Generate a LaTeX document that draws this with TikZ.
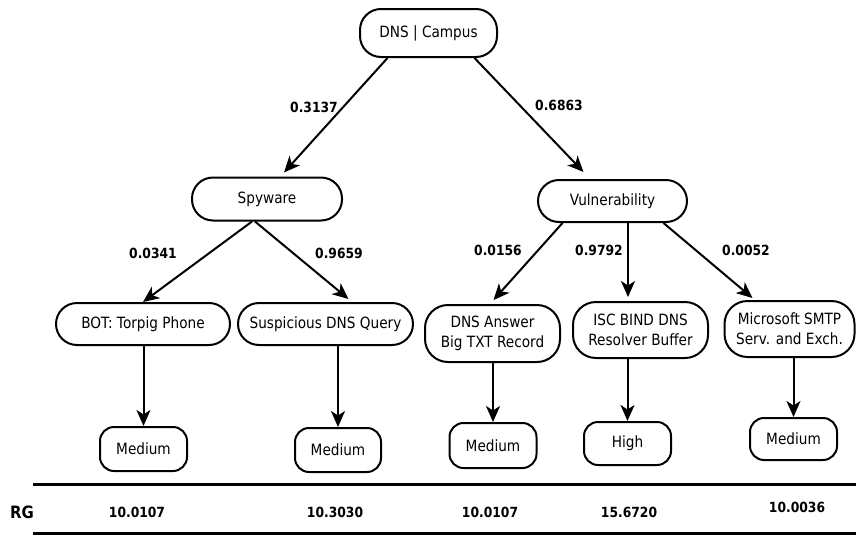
\documentclass[tikz,border=0pt]{standalone}
\usepackage{fontspec}
\setmainfont{DejaVu Sans}[FakeStretch=0.88]
\usetikzlibrary{arrows.meta,calc}
\begin{document}
\begin{tikzpicture}[x=1pt,y=-1pt,
  box/.style={draw,line width=2pt,rounded corners=21pt,inner sep=0pt,
    align=center,font=\fontsize{15.5}{20}\selectfont},
  leaf/.style={draw,line width=2pt,rounded corners=14pt,inner sep=0pt,
    align=center,font=\fontsize{15.5}{20}\selectfont},
  plab/.style={font=\fontsize{14}{16}\selectfont\bfseries,inner sep=0pt},
  arr/.style={line width=2pt,-{Stealth[length=16pt,width=14pt,inset=4.5pt]}},
  rule/.style={line width=3pt}]
\useasboundingbox (0,0) rectangle (856,536);
% main nodes
\node[box,minimum width=137pt,minimum height=48pt] (campus) at (428.5,33) {DNS | Campus};
\node[box,minimum width=150pt,minimum height=43pt] (spy) at (267,199) {Spyware};
\node[box,minimum width=149pt,minimum height=42pt] (vul) at (612.5,201) {Vulnerability};
\node[box,minimum width=174pt,minimum height=42pt] (bot) at (143,324) {BOT: Torpig Phone};
\node[box,minimum width=175pt,minimum height=42pt] (sus) at (325.5,324) {Suspicious DNS Query};
\node[box,minimum width=135pt,minimum height=57pt,rounded corners=23pt] (dnsa) at (492.5,333.5) {DNS Answer\\Big TXT Record};
\node[box,minimum width=135pt,minimum height=56pt,rounded corners=23pt] (isc) at (640.5,330) {ISC BIND DNS\\Resolver Buffer};
\node[box,minimum width=130pt,minimum height=56pt,rounded corners=23pt] (ms) at (789.5,329) {Microsoft SMTP\\Serv. and Exch.};
% leaves
\node[leaf,minimum width=87pt,minimum height=44pt] (m1) at (143.5,449) {Medium};
\node[leaf,minimum width=86pt,minimum height=44pt] (m2) at (338,450) {Medium};
\node[leaf,minimum width=87pt,minimum height=45pt] (m3) at (493,445.5) {Medium};
\node[leaf,minimum width=87pt,minimum height=43pt] (high) at (627.5,443.5) {High};
\node[leaf,minimum width=87pt,minimum height=42pt] (m4) at (793.5,439) {Medium};
% arrows top
\draw[arr] ($(campus.south)+(-41,0)$) -- ($(spy.north)+(17,-4)$);
\draw[arr] ($(campus.south)+(46,0)$) -- ($(vul.north)+(-29,-7)$);
\draw[arr] ($(spy.south)+(-15,0)$) -- ($(bot.north)+(0,0)$);
\draw[arr] ($(spy.south)+(-12,0)$) -- ($(sus.north)+(23,-3)$);
\draw[arr] ($(vul.south)+(-50,0)$) -- ($(dnsa.north)+(1,-4)$);
\draw[arr] ($(vul.south)+(15.5,0)$) -- ($(isc.north)+(-12.5,-4)$);
\draw[arr] ($(vul.south)+(51,0)$) -- ($(ms.north)+(-37,-2)$);
% arrows to leaves
\draw[arr] (bot.south -| m1.north) -- (m1.north);
\draw[arr] (sus.south -| m2.north) -- (m2.north);
\draw[arr] (dnsa.south -| m3.north) -- (m3.north);
\draw[arr] (isc.south -| high.north) -- (high.north);
\draw[arr] (ms.south -| m4.north) -- (m4.north);
% probability labels
\node[plab] (p1) at (314,107) {0.3137};
\node[plab] (p2) at (559,105) {0.6863};
\node[plab] (p3) at (153,253) {0.0341};
\node[plab] (p4) at (339,253) {0.9659};
\node[plab] (p5) at (498,250) {0.0156};
\node[plab] (p6) at (599,250) {0.9792};
\node[plab] (p7) at (746,250) {0.0052};
% table
\coordinate (l1) at (33,484.5);
\coordinate (r1) at (856,484.5);
\coordinate (l2) at (33,533.5);
\coordinate (r2) at (856,533.5);
\draw[rule] (l1) -- (r1);
\draw[rule] (l2) -- (r2);
\node[font=\fontsize{17}{20}\selectfont\bfseries,inner sep=0pt] (rg) at (22,512) {RG};
\node[plab] (v1) at (137,512) {10.0107};
\node[plab] (v2) at (335,512) {10.3030};
\node[plab] (v3) at (490,512) {10.0107};
\node[plab] (v4) at (629,512) {15.6720};
\node[plab] (v5) at (797,507) {10.0036};
\end{tikzpicture}
\end{document}
